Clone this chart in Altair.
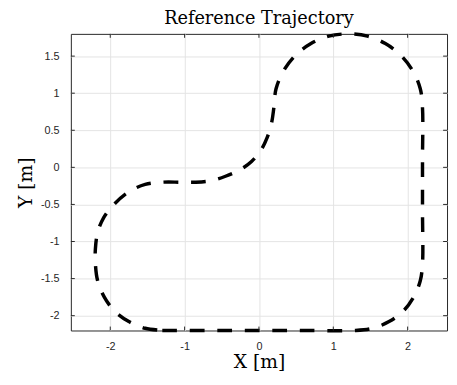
import altair as alt
import pandas as pd

# Path of the reference trajectory (metres)
path_x = [-1.3, -0.65, 0.0, 0.65, 1.3,
          1.53, 1.75, 1.94, 2.08, 2.17, 2.2,
          2.2, 2.2, 2.2,
          2.17, 2.07, 1.91, 1.7, 1.46, 1.2, 0.94, 0.7, 0.49, 0.33, 0.23, 0.2,
          0.17, 0.11, 0.02, -0.1, -0.25, -0.45, -0.65, -0.85, -1.05, -1.3,
          -1.53, -1.75, -1.95, -2.09, -2.17, -2.2,
          -2.2,
          -2.17, -2.08, -1.94, -1.75, -1.53, -1.3]
path_y = [-2.2, -2.2, -2.2, -2.2, -2.2,
          -2.17, -2.08, -1.94, -1.75, -1.53, -1.3,
          -0.6, 0.1, 0.8,
          1.06, 1.3, 1.51, 1.67, 1.77, 1.8, 1.77, 1.67, 1.51, 1.3, 1.06, 0.8,
          0.6, 0.4, 0.22, 0.08, -0.03, -0.12, -0.18, -0.2, -0.2, -0.2,
          -0.23, -0.33, -0.5, -0.68, -0.88, -1.1,
          -1.3,
          -1.53, -1.75, -1.94, -2.08, -2.17, -2.2]

x_ticks = [-2, -1, 0, 1, 2]
y_ticks = [-2, -1.5, -1, -0.5, 0, 0.5, 1, 1.5]
x_domain = [-2.53, 2.53]
y_domain = [-2.2, 1.8]

title_text = "Reference Trajectory"
x_title = "X [m]"
y_title = "Y [m]"

W, H = 383, 302
AX = "#262626"

df = pd.DataFrame({"x": path_x, "y": path_y, "i": list(range(len(path_x)))})
xt = pd.DataFrame({"x": x_ticks})
yt = pd.DataFrame({"y": y_ticks})

xscale = alt.Scale(domain=x_domain, nice=False, zero=False)
yscale = alt.Scale(domain=y_domain, nice=False, zero=False)

label_font = "Liberation Sans"
title_font = "DejaVu Serif"

x_axis = alt.Axis(values=x_ticks, grid=True, gridColor="#e3e3e3", ticks=False, domain=False,
                  labelFont=label_font, labelFontSize=11, labelColor=AX, labelPadding=10,
                  labelExpr="toString(datum.value)",
                  title=x_title, titleFont=title_font, titleFontSize=19, titleFontWeight="normal",
                  titleColor="black", titlePadding=2)
y_axis = alt.Axis(values=y_ticks, grid=True, gridColor="#e3e3e3", ticks=False, domain=False,
                  labelFont=label_font, labelFontSize=11, labelColor=AX, labelPadding=12,
                  labelExpr="toString(datum.value)",
                  title=y_title, titleFont=title_font, titleFontSize=19, titleFontWeight="normal",
                  titleColor="black", titlePadding=5)

line = alt.Chart(df).mark_line(color="black", strokeWidth=3.5, strokeDash=[15, 13],
                               interpolate="catmull-rom").encode(
    x=alt.X("x:Q", scale=xscale, axis=x_axis),
    y=alt.Y("y:Q", scale=yscale, axis=y_axis),
    order=alt.Order("i:Q"),
)

tick_len = 4
xb = alt.Chart(xt).mark_rule(color=AX, strokeWidth=1).encode(
    x=alt.X("x:Q", scale=xscale, axis=x_axis), y=alt.value(H), y2=alt.value(H - tick_len))
xtop = alt.Chart(xt).mark_rule(color=AX, strokeWidth=1).encode(
    x=alt.X("x:Q", scale=xscale, axis=x_axis), y=alt.value(0), y2=alt.value(tick_len))
yl = alt.Chart(yt).mark_rule(color=AX, strokeWidth=1).encode(
    y=alt.Y("y:Q", scale=yscale, axis=y_axis), x=alt.value(0), x2=alt.value(tick_len))
yr = alt.Chart(yt).mark_rule(color=AX, strokeWidth=1).encode(
    y=alt.Y("y:Q", scale=yscale, axis=y_axis), x=alt.value(W), x2=alt.value(W - tick_len))

chart = alt.layer(line, xb, xtop, yl, yr).properties(
    width=W, height=H,
    title=alt.TitleParams(title_text, font=title_font, fontSize=18, fontWeight="normal",
                          color="black", anchor="middle", frame="group", offset=-1),
    autosize="none",
    padding={"left": 64, "top": 23, "right": 2, "bottom": 44},
).configure_view(stroke=AX, strokeWidth=1)

chart.save("out.html", embed_options={"renderer": "svg", "actions": False})
